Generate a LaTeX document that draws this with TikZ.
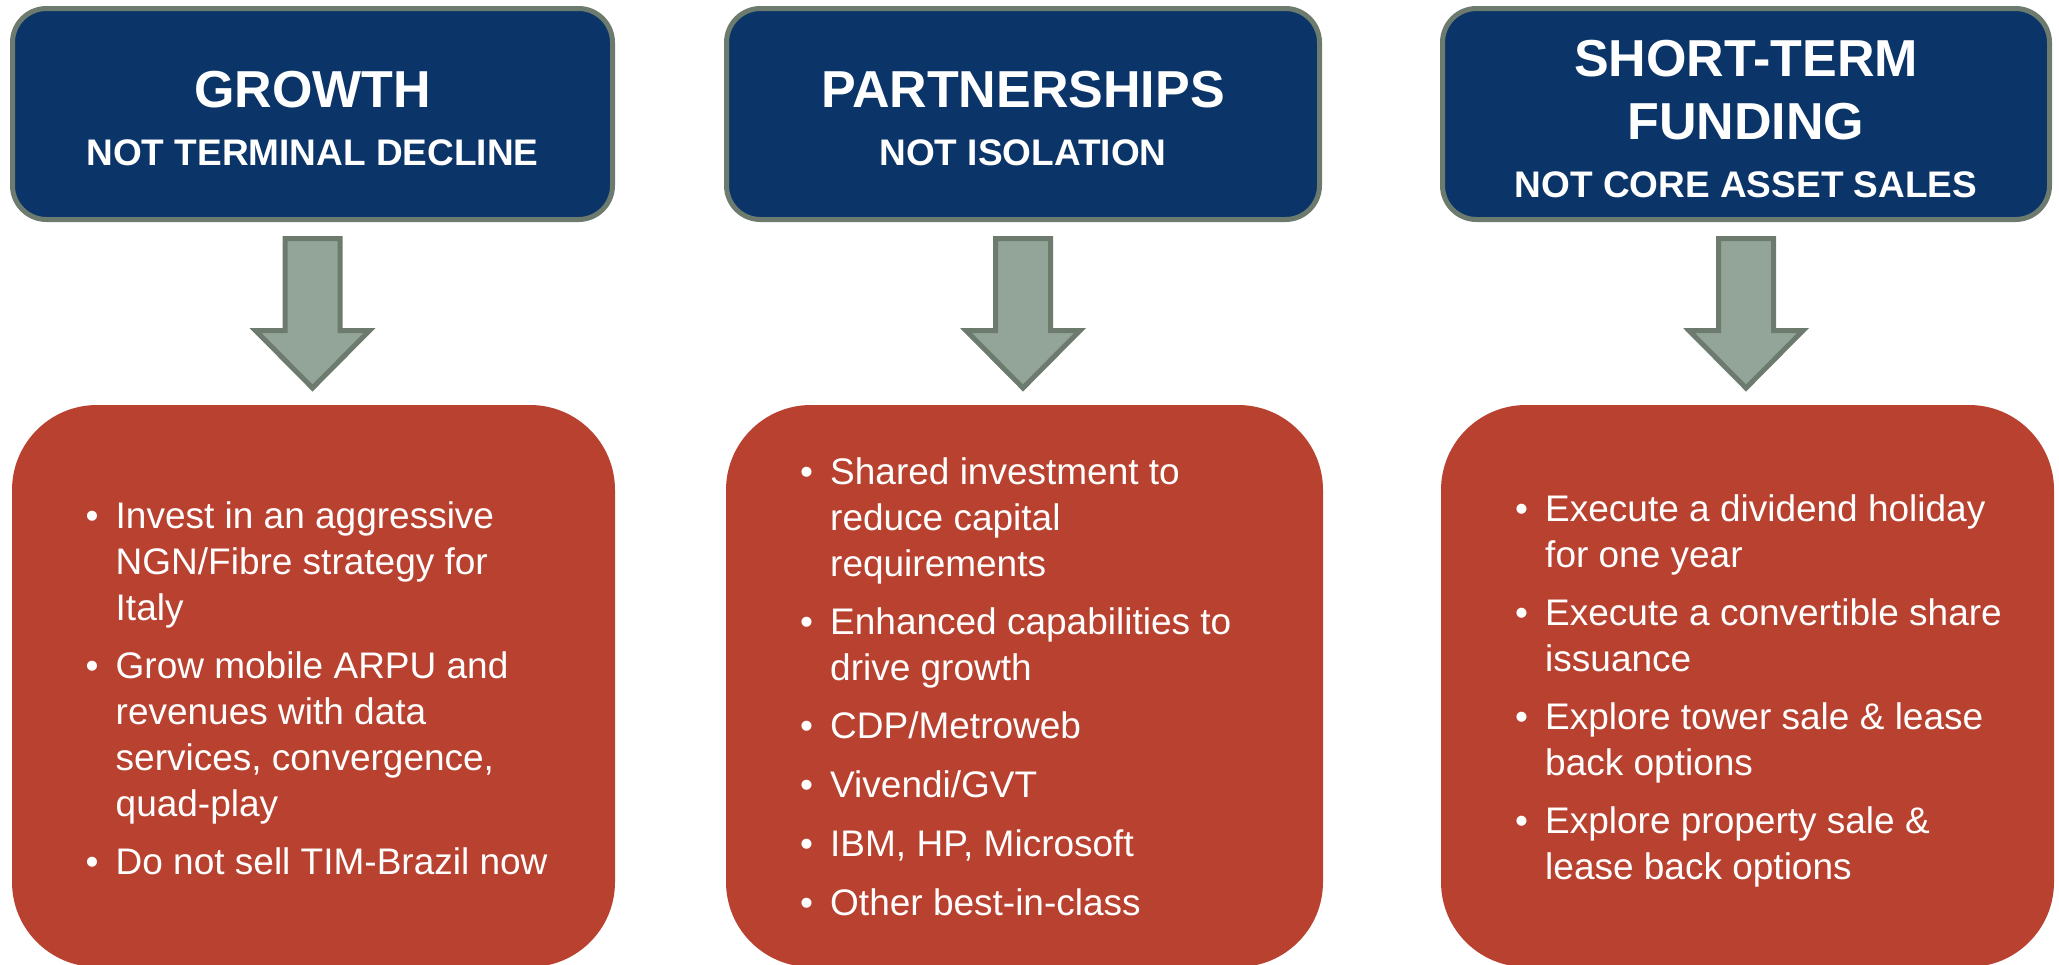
\documentclass[tikz,border=0pt]{standalone}
\usepackage{fontspec}
\setmainfont{Liberation Sans}
\usetikzlibrary{calc}

\definecolor{navy}{HTML}{0B3569}
\definecolor{slate}{HTML}{6D7B6F}
\definecolor{brick}{HTML}{B9412F}
\definecolor{sage}{HTML}{93A598}

% bullet cell of a list row
\newcommand{\bul}{\makebox[30pt][l]{\textbullet}}

\tikzset{
  headbox/.style={draw=slate, line width=5pt, fill=navy, rounded corners=34pt,
    minimum height=211pt, inner sep=0pt},
  bodybox/.style={fill=brick, rounded corners=85pt, minimum height=562pt, inner sep=0pt},
  bigtitle/.style={text=white, font=\bfseries\fontsize{52}{62}\selectfont,
    inner sep=0pt, anchor=base},
  subtitle/.style={text=white, font=\bfseries\fontsize{37}{44}\selectfont,
    inner sep=0pt, anchor=base},
  bullets/.style={text=white, font=\fontsize{37}{46}\selectfont, inner sep=0pt, anchor=west},
  blockarrow/.style={draw=slate, fill=sage, line width=5pt, line join=miter},
}

% block arrow hanging below a heading box
\newcommand{\downblock}[1]{%
  \draw[blockarrow] ($(#1.south)+(-27.5,16.5)$) -- ++(0,92) -- ++(-29.5,0)
    -- ($(#1.south)+(0,166)$) -- ($(#1.south)+(57,108.5)$) -- ++(-29.5,0)
    -- ($(#1.south)+(27.5,16.5)$) -- cycle;}

\begin{document}
\begin{tikzpicture}[x=1pt, y=-1pt]
  \useasboundingbox (0,0) rectangle (2059,964);
  \clip (0,0) rectangle (2059,964);

  % heading boxes
  \node[headbox, minimum width=600pt] (h1) at (312.5,114) {};
  \node[headbox, minimum width=593pt] (h2) at (1023,114) {};
  \node[headbox, minimum width=607pt] (h3) at (1746,114) {};

  \node[bigtitle] (t1) at (312.5,107.8) {GROWTH};
  \node[subtitle] (s1) at (312.5,165) {NOT TERMINAL DECLINE};
  \node[bigtitle] (t2) at (1023,107.8) {PARTNERSHIPS};
  \node[subtitle] (s2) at (1023,165) {NOT ISOLATION};
  \node[bigtitle] (t3a) at (1746,76.8) {SHORT-TERM};
  \node[bigtitle] (t3b) at (1746,139.8) {FUNDING};
  \node[subtitle] (s3) at (1746,197.2) {NOT CORE ASSET SALES};

  % arrows
  \downblock{h1}
  \downblock{h2}
  \downblock{h3}

  % content boxes
  \node[bodybox, minimum width=603pt] (b1) at (313.5,686) {};
  \node[bodybox, minimum width=597pt] (b2) at (1024.5,686) {};
  \node[bodybox, minimum width=613pt] (b3) at (1747.5,686) {};

  \node[bullets] (l1) at (85.5,692.5) {\begin{tabular}{@{}l@{}l@{}}
    \bul & Invest in an aggressive\\
         & NGN/Fibre strategy for\\
         & Italy\\[12pt]
    \bul & Grow mobile ARPU and\\
         & revenues with data\\
         & services, convergence,\\
         & quad-play\\[12pt]
    \bul & Do not sell TIM-Brazil now
  \end{tabular}};

  \node[bullets] (l2) at (800,691) {\begin{tabular}{@{}l@{}l@{}}
    \bul & Shared investment to\\
         & reduce capital\\
         & requirements\\[12pt]
    \bul & Enhanced capabilities to\\
         & drive growth\\[12pt]
    \bul & CDP/Metroweb\\[13pt]
    \bul & Vivendi/GVT\\[13pt]
    \bul & IBM, HP, Microsoft\\[13pt]
    \bul & Other best-in-class
  \end{tabular}};

  \node[bullets] (l3) at (1515,691) {\begin{tabular}{@{}l@{}l@{}}
    \bul & Execute a dividend holiday\\
         & for one year\\[12pt]
    \bul & Execute a convertible share\\
         & issuance\\[12pt]
    \bul & Explore tower sale \& lease\\
         & back options\\[12pt]
    \bul & Explore property sale \&\\
         & lease back options
  \end{tabular}};
\end{tikzpicture}
\end{document}
